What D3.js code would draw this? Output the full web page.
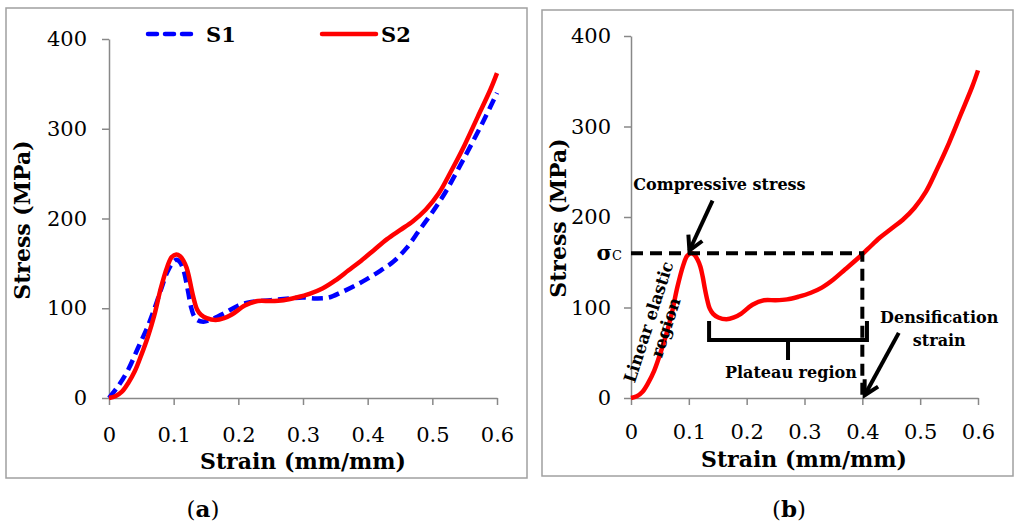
<!DOCTYPE html>
<html>
<head>
<meta charset="utf-8">
<script src="https://cdnjs.cloudflare.com/ajax/libs/d3/7.8.5/d3.min.js"></script>
<style>
  html, body { margin: 0; padding: 0; background: #fff; }
  svg { display: block; }
  text { font-family: "DejaVu Serif", "Liberation Serif", serif; }
</style>
</head>
<body>
<svg id="chart" width="1024" height="530"></svg>
<script>
// ---------- data ----------
const s1Strain = [0, 0.015, 0.03, 0.045, 0.06, 0.07, 0.08, 0.09, 0.1, 0.105, 0.11, 0.115, 0.119, 0.123, 0.127, 0.131, 0.136, 0.146, 0.16, 0.18, 0.2, 0.22, 0.25, 0.28, 0.3, 0.32, 0.34, 0.36, 0.38, 0.4, 0.42, 0.44, 0.46, 0.48, 0.5, 0.52, 0.54, 0.56, 0.58, 0.6];
const s1Stress = [0, 14, 32, 56, 80, 99, 120, 140, 152, 154, 151, 143, 131, 116, 101, 92, 87, 85, 88, 95, 103, 107, 109, 111, 112, 111, 112, 118, 125, 133, 142, 152, 167, 187, 207, 229, 255, 282, 310, 340];

const s2Strain = [0, 0.01, 0.02, 0.03, 0.04, 0.05, 0.06, 0.07, 0.08, 0.09, 0.097, 0.104, 0.11, 0.115, 0.12, 0.124, 0.128, 0.132, 0.136, 0.142, 0.151, 0.165, 0.178, 0.19, 0.21, 0.23, 0.25, 0.27, 0.29, 0.31, 0.33, 0.35, 0.37, 0.39, 0.41, 0.43, 0.45, 0.47, 0.49, 0.51, 0.53, 0.55, 0.57, 0.59, 0.6];
const s2Stress = [0, 2, 7, 17, 30, 48, 68, 92, 122, 146, 157, 160, 158, 153, 145, 134, 120, 108, 99, 93, 89, 87, 89, 93, 103, 108, 108, 109, 112, 116, 122, 131, 142, 153, 165, 177, 187, 197, 210, 228, 254, 282, 313, 344, 362];

const seriesNames = ["S1", "S2"];
const xTicks = [0, 0.1, 0.2, 0.3, 0.4, 0.5, 0.6];
const xTickLabels = ["0", "0.1", "0.2", "0.3", "0.4", "0.5", "0.6"];
const yTicks = [0, 100, 200, 300, 400];
const yTickLabels = ["0", "100", "200", "300", "400"];
const xTitle = "Strain (mm/mm)";
const yTitle = "Stress (MPa)";
const captions = ["a", "b"];

// annotation values (data units)
const sigmaC = 160;
const densificationStrain = 0.4;
const plateauStart = 0.135;
const plateauEnd = 0.408;

// ---------- drawing ----------
const svg = d3.select("#chart");
const s1 = s1Strain.map((s, i) => [s, s1Stress[i]]);
const s2 = s2Strain.map((s, i) => [s, s2Stress[i]]);

function panel(cfg) {
  const g = svg.append("g");
  g.append("rect").attr("x", cfg.frame[0]).attr("y", cfg.frame[1])
    .attr("width", cfg.frame[2] - cfg.frame[0]).attr("height", cfg.frame[3] - cfg.frame[1])
    .attr("fill", "none").attr("stroke", "#a0a0a0").attr("stroke-width", 1.5);

  const x = d3.scaleLinear().domain([0, 0.6]).range(cfg.xr);
  const y = d3.scaleLinear().domain([0, 400]).range(cfg.yr);

  const xa = g.append("g").attr("transform", `translate(0,${cfg.yr[0]})`)
    .call(d3.axisBottom(x).tickValues(xTicks).tickFormat((d, i) => xTickLabels[i])
      .tickSize(7).tickSizeOuter(0).tickPadding(cfg.xPad));
  const ya = g.append("g").attr("transform", `translate(${cfg.xr[0]},0)`)
    .call(d3.axisLeft(y).tickValues(yTicks).tickFormat((d, i) => yTickLabels[i])
      .tickSize(7).tickSizeOuter(0).tickPadding(cfg.yPad));
  [xa, ya].forEach(a => {
    a.selectAll("path, line").attr("stroke", "#888").attr("stroke-width", 1.5);
    a.selectAll("text").attr("font-size", 21).attr("fill", "#000")
      .attr("font-family", "DejaVu Serif");
  });

  g.append("text").attr("x", cfg.xTitle[0]).attr("y", cfg.xTitle[1])
    .attr("text-anchor", "middle").attr("font-size", 22).attr("font-weight", "bold").text(xTitle);
  g.append("text").attr("transform", `translate(${cfg.yTitle[0]},${cfg.yTitle[1]}) rotate(-90)`)
    .attr("text-anchor", "middle").attr("font-size", 22).attr("font-weight", "bold").text(yTitle);

  const cap = svg.append("text").attr("x", cfg.cap[0]).attr("y", cfg.cap[1])
    .attr("text-anchor", "middle").attr("font-size", 23);
  cap.append("tspan").text("(");
  cap.append("tspan").attr("font-weight", "bold").text(cfg.caption);
  cap.append("tspan").text(")");

  const line = d3.line().x(d => x(d[0])).y(d => y(d[1])).curve(d3.curveCatmullRom.alpha(0.5));
  return { g, x, y, line };
}

// ---- panel (a)
const A = panel({
  frame: [6, 8, 527, 478], xr: [109, 497], yr: [398, 39], xPad: 22, yPad: 15,
  xTitle: [303, 469], yTitle: [30, 220], cap: [203, 517], caption: captions[0]
});
A.g.append("path").datum(s1).attr("d", A.line).attr("fill", "none")
  .attr("stroke", "#0000ff").attr("stroke-width", 4.5).attr("stroke-dasharray", "11,6");
A.g.append("path").datum(s2).attr("d", A.line).attr("fill", "none")
  .attr("stroke", "#ff0000").attr("stroke-width", 4.5).attr("stroke-linejoin", "round");

// legend
const leg = [
  { name: seriesNames[0], x1: 148, x2: 197, tx: 206, color: "#0000ff", dash: "9,8" },
  { name: seriesNames[1], x1: 322, x2: 376, tx: 381, color: "#ff0000", dash: null }
];
leg.forEach(l => {
  A.g.append("line").attr("x1", l.x1).attr("x2", l.x2).attr("y1", 34).attr("y2", 34)
    .attr("stroke", l.color).attr("stroke-width", 4.5).attr("stroke-linecap", "round")
    .attr("stroke-dasharray", l.dash);
  A.g.append("text").attr("x", l.tx).attr("y", 42).attr("font-size", 21)
    .attr("font-weight", "bold").text(l.name);
});

// ---- panel (b)
const B = panel({
  frame: [542, 10, 1013, 476], xr: [631, 978], yr: [398, 36], xPad: 19, yPad: 13,
  xTitle: [804, 467], yTitle: [566, 218], cap: [789, 517], caption: captions[1]
});
B.g.append("path").datum(s2).attr("d", B.line).attr("fill", "none")
  .attr("stroke", "#ff0000").attr("stroke-width", 4.5).attr("stroke-linejoin", "round");

const bx = B.x, by = B.y;
B.g.append("path")
  .attr("d", `M${bx(0)},${by(sigmaC)}H${bx(densificationStrain)}V${by(0)}`)
  .attr("fill", "none").attr("stroke", "#000").attr("stroke-width", 4)
  .attr("stroke-dasharray", "12,7");

const sc = B.g.append("text").attr("x", bx(0) - 9).attr("y", by(sigmaC) + 7)
  .attr("text-anchor", "end").attr("font-size", 21).attr("font-weight", "bold");
sc.append("tspan").text("σ");
sc.append("tspan").attr("font-size", 13).attr("font-weight", "normal").text("C");

function arrow(x1, y1, x2, y2) {
  const ang = Math.atan2(y2 - y1, x2 - x1);
  const L = 16, w = 0.5;
  B.g.append("line").attr("x1", x1).attr("y1", y1).attr("x2", x2).attr("y2", y2)
    .attr("stroke", "#000").attr("stroke-width", 4);
  const p1 = [x2 - L * Math.cos(ang - w), y2 - L * Math.sin(ang - w)];
  const p2 = [x2 - L * Math.cos(ang + w), y2 - L * Math.sin(ang + w)];
  B.g.append("path").attr("d", `M${p1}L${x2},${y2}L${p2}`)
    .attr("fill", "none").attr("stroke", "#000").attr("stroke-width", 4)
    .attr("stroke-linejoin", "miter");
}
arrow(bx(0.141), by(218), bx(0.101), by(163));
arrow(bx(0.463), by(72), bx(0.404), by(3));

const annFont = 16;
B.g.append("text").attr("x", bx(0.153)).attr("y", by(230)).attr("text-anchor", "middle")
  .attr("font-size", annFont).attr("font-weight", "bold").text("Compressive stress");
B.g.append("text").attr("x", bx(0.533)).attr("y", by(83)).attr("text-anchor", "middle")
  .attr("font-size", annFont).attr("font-weight", "bold").text("Densification");
B.g.append("text").attr("x", bx(0.533)).attr("y", by(57)).attr("text-anchor", "middle")
  .attr("font-size", annFont).attr("font-weight", "bold").text("strain");

const pm = (plateauStart + plateauEnd) / 2;
B.g.append("path")
  .attr("d", `M${bx(plateauStart)},${by(85)}V${by(64)}H${bx(plateauEnd)}V${by(85)}M${bx(pm)},${by(64)}V${by(42)}`)
  .attr("fill", "none").attr("stroke", "#000").attr("stroke-width", 4);
B.g.append("text").attr("x", bx(pm + 0.005)).attr("y", by(22)).attr("text-anchor", "middle")
  .attr("font-size", annFont).attr("font-weight", "bold").text("Plateau region");

const le = B.g.append("g").attr("transform", `translate(${bx(0.04)},${by(82)}) rotate(-72)`);
le.append("text").attr("x", 0).attr("y", 0).attr("text-anchor", "middle")
  .attr("font-size", 17).attr("font-weight", "bold")
  .attr("textLength", 126).attr("lengthAdjust", "spacingAndGlyphs").text("Linear elastic");
le.append("text").attr("x", 0).attr("y", 18).attr("text-anchor", "middle")
  .attr("font-size", 17).attr("font-weight", "bold").text("region");
</script>
</body>
</html>
